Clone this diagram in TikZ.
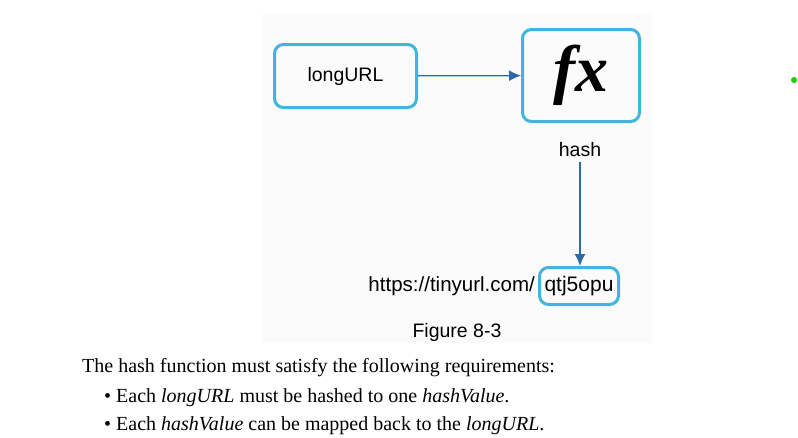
\documentclass[tikz,border=0pt]{standalone}
\usepackage{fontspec}
\setmainfont{Liberation Serif}
\setsansfont{Liberation Sans}
\usetikzlibrary{arrows.meta,positioning}
\definecolor{boxline}{RGB}{64,181,221}
\definecolor{arrowblue}{RGB}{46,106,168}
\definecolor{panel}{RGB}{251,251,252}
\definecolor{dotgreen}{RGB}{34,204,0}
\tikzset{
  blk/.style={rectangle, rounded corners=9pt, draw=boxline, line width=3pt,
              align=center, font=\sffamily\fontsize{19.5}{22}\selectfont},
  ar/.style={-{Latex[length=12pt,width=11pt]}, draw=arrowblue, fill=arrowblue, line width=1.2pt},
  lbl/.style={font=\sffamily\fontsize{19.5}{22}\selectfont, inner sep=0pt},
  para/.style={font=\fontsize{20}{24}\selectfont, anchor=base west, inner sep=0pt},
}

\begin{document}
\begin{tikzpicture}[x=1pt,y=-1pt]
\useasboundingbox (0,0) rectangle (798,437);

% ===================== panel =====================
\fill[panel] (262,14) rectangle (652,343);

% ===================== boxes =====================
\node[blk, minimum width=142pt, minimum height=63pt] (LONG) at (345.5,76) {longURL};
\node[blk, minimum width=117pt, minimum height=92pt,
      font=\rmfamily\fontsize{66}{66}\selectfont\bfseries\itshape] (FX) at (581,75.5) {fx};
\node[lbl] (HASH) at (580,150) {hash};
\node[blk, minimum width=79pt, minimum height=37pt, inner sep=2pt,
      font=\sffamily\fontsize{21}{22}\selectfont] (SHORT) at (579,286) {qtj5opu};
\node[lbl, anchor=base east, font=\sffamily\fontsize{20.5}{22}\selectfont]
  (BASE) at ([xshift=-3pt]SHORT.base west) {https://tinyurl.com/};
\node[lbl] (FIG) at (457,332) {Figure 8-3};

% arrows
\draw[ar] (LONG) -- (FX);
\draw[ar, shorten <=5pt] (HASH.south) -- (HASH.south |- SHORT.north);

% ===================== text below =====================
\node[para] (P1) at (82,372) {The hash function must satisfy the following requirements:};
\node[para] (P2) at (104,402) {\textbullet\ Each \textit{longURL} must be hashed to one \textit{hashValue}.};
\node[para] (P3) at (104,430) {\textbullet\ Each \textit{hashValue} can be mapped back to the \textit{longURL}.};

\node[circle, fill=dotgreen, inner sep=0pt, minimum size=6pt] (DOT) at (794,80) {};

\end{tikzpicture}
\end{document}
